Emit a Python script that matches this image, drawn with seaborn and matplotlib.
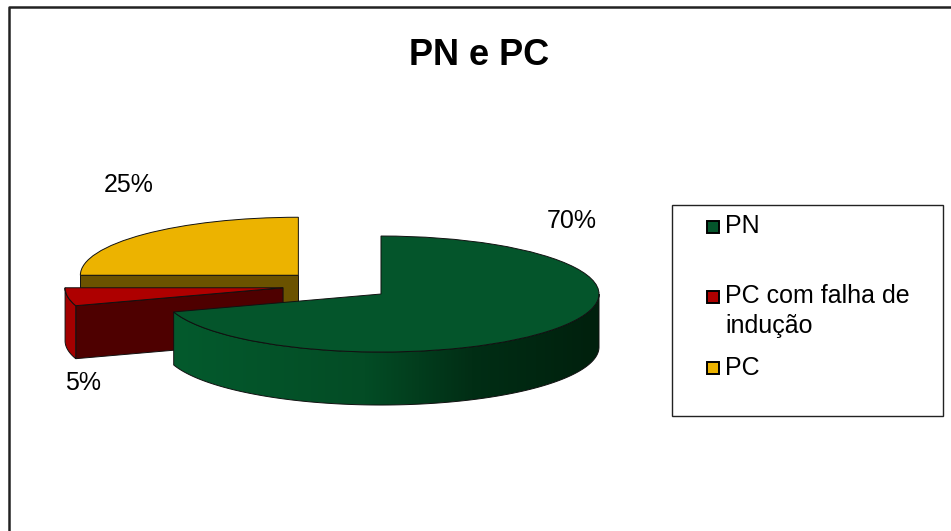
import textwrap
import numpy as np
import matplotlib
matplotlib.use("Agg")
import matplotlib.pyplot as plt
import seaborn as sns
from matplotlib.patches import Polygon, Rectangle
from matplotlib.lines import Line2D
from matplotlib.colors import LinearSegmentedColormap

# ---------------- data ----------------
categories = ["PN", "PC com falha de indução", "PC"]
values = [70, 5, 25]
title = "PN e PC"

# ---------------- styles ----------------
top_colors = ["#04552B", "#AE0000", "#ECB300"]
face_colors = ["#02401F", "#4E0000", "#6B5200"]   # visible cut faces
arc_colors = ["#03481F", "#A30000", "#8A6A00"]    # visible outer rims
green_rim_grad = [(0.0, "#045A2D"), (0.45, "#034C25"), (0.7, "#012E15"), (1.0, "#00200D")]
edge = "#111111"

sns.set_theme(style="white")
plt.rcParams['font.family'] = ['Liberation Sans', 'DejaVu Sans']
plt.rcParams['text.color'] = 'black'

W, H = 951, 531
fig = plt.figure(figsize=(W / 100, H / 100), dpi=100)
ax = fig.add_axes([0, 0, 1, 1])

def fx(x):
    return x / W

def fy(y):
    return 1 - y / H

# layout of the squashed pie: pixels per data unit and common centre
PX_X, PX_Y = 218.0, 58.0
CX, CY = 336.9, 285.5
depth = 53.0 / PX_Y

wedges, _ = ax.pie(values, colors=top_colors, startangle=90, counterclock=False,
                   explode=[0.25] * len(values), radius=1.0,
                   wedgeprops=dict(edgecolor=edge, linewidth=0.7))

order = [2, 1, 0]  # back to front
for rank, i in enumerate(order):
    w = wedges[i]
    cx, cy = w.center
    r = w.r
    t1, t2 = w.theta1, w.theta2
    z = 10 * (rank + 1)
    w.set_zorder(z + 5)
    # cut faces
    for ang, nrm in ((t1, t1 - 90), (t2, t2 + 90)):
        if np.sin(np.radians(nrm)) < -1e-6:
            ex = cx + r * np.cos(np.radians(ang))
            ey = cy + r * np.sin(np.radians(ang))
            ax.add_patch(Polygon([(cx, cy), (ex, ey), (ex, ey - depth), (cx, cy - depth)],
                                 closed=True, fc=face_colors[i], ec=edge, lw=0.7, zorder=z))
    # outer rim
    th = np.linspace(t1, t2, 600)
    th = th[np.sin(np.radians(th)) < -1e-9]
    if len(th) > 1:
        xs = cx + r * np.cos(np.radians(th))
        ys = cy + r * np.sin(np.radians(th))
        pts = list(zip(xs, ys)) + list(zip(xs[::-1], ys[::-1] - depth))
        if i == 0:
            rim = Polygon(pts, closed=True, fc="none", ec=edge, lw=0.7, zorder=z + 1)
            ax.add_patch(rim)
            cmap = LinearSegmentedColormap.from_list("rim", green_rim_grad)
            im = ax.imshow(np.linspace(0, 1, 256)[None, :], cmap=cmap, aspect="auto",
                           extent=(xs.min(), xs.max(), ys.min() - depth - 0.1, ys.max() + 0.1),
                           zorder=z, interpolation="bilinear")
            im.set_clip_path(rim)
        else:
            ax.add_patch(Polygon(pts, closed=True, fc=arc_colors[i], ec=edge, lw=0.7, zorder=z))

ax.set_aspect("auto")
ax.set_xlim(-CX / PX_X, (W - CX) / PX_X)
ax.set_ylim((CY - H) / PX_Y, CY / PX_Y)
ax.axis("off")

# percentage labels
label_pos = [(571.5, 228), (83, 390), (129, 192)]
for v, (lx, ly) in zip(values, label_pos):
    fig.text(fx(lx), fy(ly), f"{v}%", ha="center", va="baseline", fontsize=18, color="black")

# title
fig.text(fx(479.5), fy(65), title, ha="center", va="baseline", fontsize=26,
         fontweight="bold", color="black")

# legend box
fig.add_artist(Rectangle((fx(672), fy(416)), fx(943 - 672), (416 - 205) / H,
                         transform=fig.transFigure, fc="white", ec="#222222", lw=1.0))
marker_y = [227, 297, 368]
text_y = [233, 303, 375]
for i, cat in enumerate(categories):
    fig.add_artist(Rectangle((fx(707), fy(marker_y[i] + 6)), 12 / W, 12 / H,
                             transform=fig.transFigure, fc=top_colors[i], ec="black", lw=1.4))
    for k, line in enumerate(textwrap.wrap(cat, 15)):
        fig.text(fx(725), fy(text_y[i] + 30 * k), line, ha="left", va="baseline",
                 fontsize=18, color="black")

# chart area border (top and left visible)
fig.add_artist(Line2D([fx(9), fx(9), 1.02], [-0.02, fy(7), fy(7)],
                      transform=fig.transFigure, color="#222222", lw=1.8))

fig.savefig("out.png", dpi=100)
